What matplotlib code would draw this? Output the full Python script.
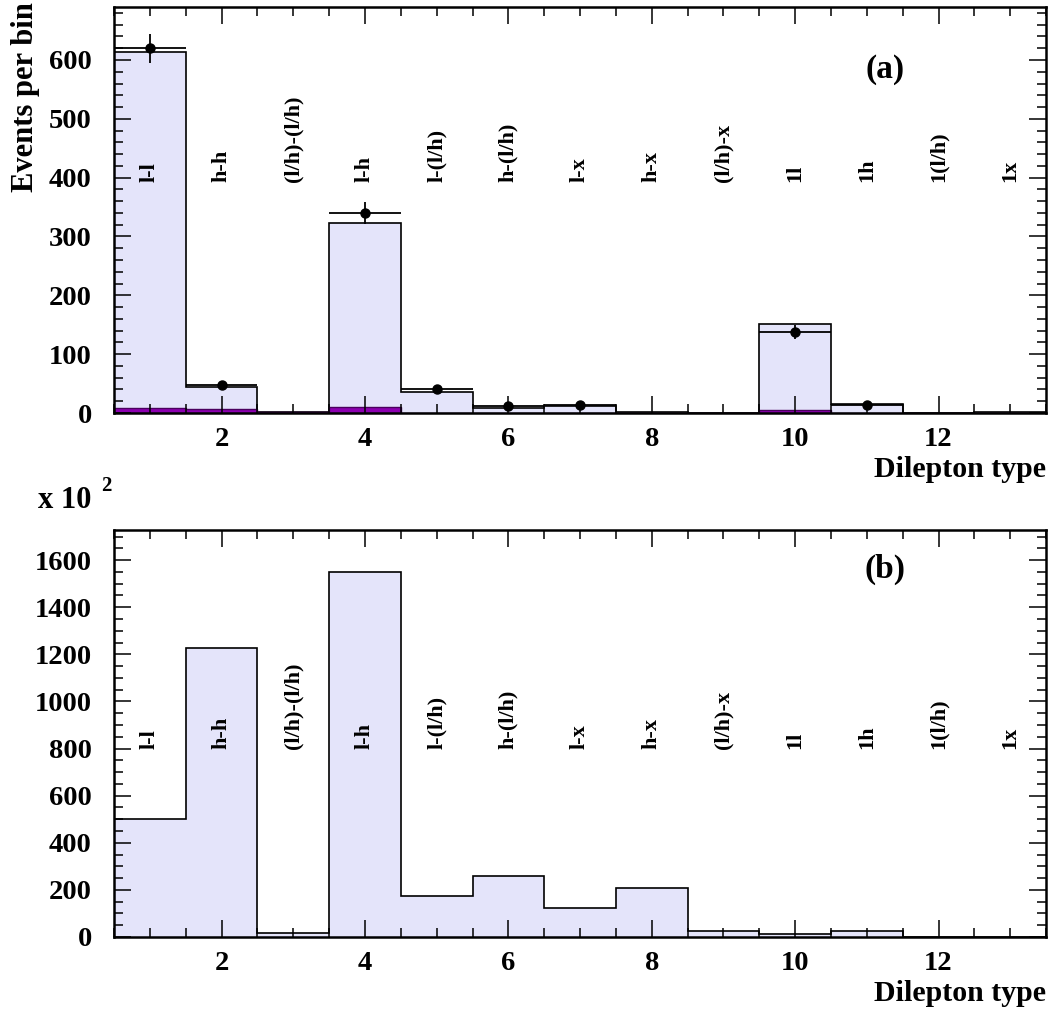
import matplotlib
matplotlib.use('Agg')
import matplotlib.pyplot as plt
from matplotlib.ticker import MultipleLocator
import numpy as np

plt.rcParams['font.family'] = ['Liberation Serif', 'DejaVu Serif']
plt.rcParams['font.weight'] = 'bold'

# bins 1..13
edges = np.arange(0.5, 14.0, 1.0)
centers = np.arange(1, 14)
bin_labels = ['l-l', 'h-h', '(l/h)-(l/h)', 'l-h', 'l-(l/h)', 'h-(l/h)', 'l-x',
              'h-x', '(l/h)-x', '1l', '1h', '1(l/h)', '1x']

# panel (a)
mc_total = [614, 44, 2, 323, 36, 8, 12, 1, 0.5, 152, 15, 0.5, 2]
mc_bkg = [9, 6, 1, 11, 0.5, 0, 0, 0, 0, 5, 0, 0, 0]
data = [620, 48, 0, 340, 41, 12, 14, 0, 0, 138, 14, 0, 0]

# panel (b), x 10^2
mc_b = [500, 1225, 17, 1550, 172, 259, 123, 208, 25, 13, 24, 0, 0]

fill_col = '#e4e4fa'
purple = '#8c00b0'


def style_axes(ax, ymaj, ymin):
    ax.set_xlim(0.5, 13.5)
    ax.xaxis.set_major_locator(MultipleLocator(2))
    ax.xaxis.set_minor_locator(MultipleLocator(0.5))
    ax.yaxis.set_major_locator(MultipleLocator(ymaj))
    ax.yaxis.set_minor_locator(MultipleLocator(ymin))
    ax.tick_params(which='both', direction='in', top=True, right=True, width=1.1)
    ax.tick_params(which='major', length=12, labelsize=20.5)
    ax.tick_params(which='minor', length=6.5)
    ax.tick_params(axis='x', which='major', pad=10)
    ax.tick_params(axis='y', which='major', pad=16)
    for s in ax.spines.values():
        s.set_linewidth(1.8)
    ax.set_xticks([2, 4, 6, 8, 10, 12])
    ax.text(1.0, -0.14, 'Dilepton type', transform=ax.transAxes,
            ha='right', va='center', fontsize=21.5, fontweight='bold')


fig = plt.figure(figsize=(10.58, 10.17), dpi=100)

# ---- (a)
ax1 = fig.add_axes([0.1078, 0.5939, 0.8809, 0.3992])
ax1.stairs(mc_total, edges, fill=True, facecolor=fill_col, edgecolor='black',
           linewidth=1.2)
ax1.stairs(mc_bkg, edges, fill=True, facecolor=purple, edgecolor='#4a005e',
           linewidth=1.0)
d = np.array(data, dtype=float)
m = d > 0
ax1.errorbar(centers[m], d[m], xerr=0.5, yerr=np.sqrt(d[m]), fmt='o',
             color='black', ms=6.5, elinewidth=1.3, capsize=0)
ax1.set_ylim(0, 690)
style_axes(ax1, 100, 20)
for x, lab in zip(centers, bin_labels):
    ax1.text(x, 392, lab, rotation=90, ha='center', va='bottom',
             fontsize=16, fontweight='bold')
ax1.text(11.25, 583, '(a)', ha='center', va='center', fontsize=24,
         fontweight='bold')
ax1.text(-0.095, 1.012, 'Events per bin', transform=ax1.transAxes,
         rotation=90, ha='center', va='top', fontsize=22, fontweight='bold')

# ---- (b)
ax2 = fig.add_axes([0.1078, 0.0787, 0.8809, 0.4002])
ax2.stairs(mc_b, edges, fill=True, facecolor=fill_col, edgecolor='black',
           linewidth=1.2)
ax2.set_ylim(0, 1728)
style_axes(ax2, 200, 50)
for x, lab in zip(centers, bin_labels):
    ax2.text(x, 800, lab, rotation=90, ha='center', va='bottom',
             fontsize=16, fontweight='bold')
ax2.text(11.25, 1560, '(b)', ha='center', va='center', fontsize=24,
         fontweight='bold')

fig.text(38 / 1058, 1 - 500 / 1017, 'x 10', ha='left', va='center',
         fontsize=22, fontweight='bold')
fig.text(101 / 1058, 1 - 486 / 1017, '2', ha='left', va='center',
         fontsize=15, fontweight='bold')

fig.savefig('out.png', dpi=100)
